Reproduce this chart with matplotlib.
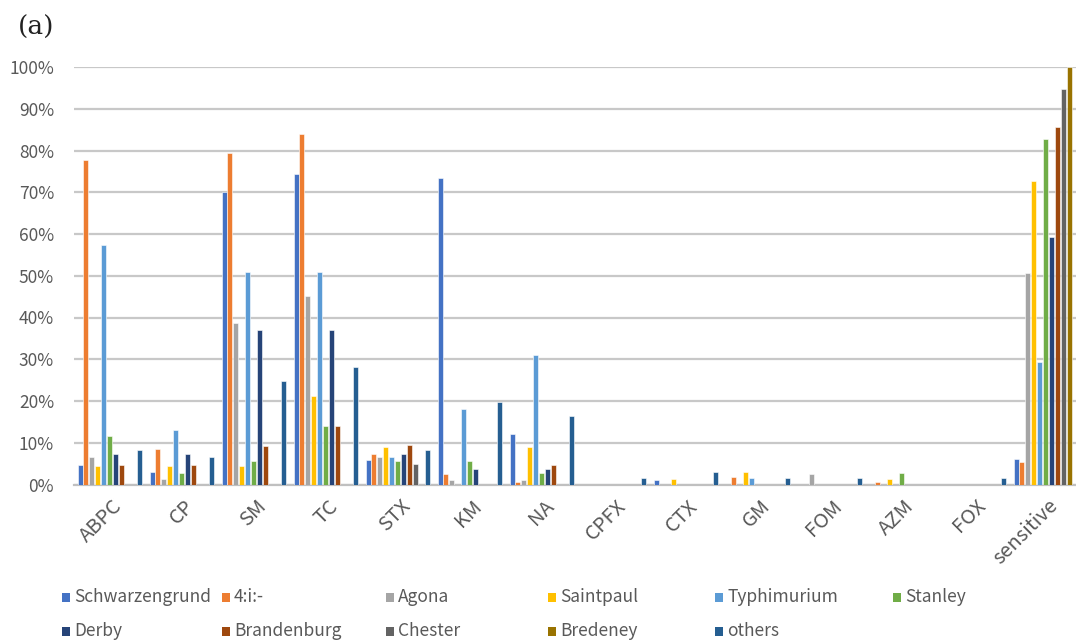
import numpy as np
import matplotlib
matplotlib.use('Agg')
import matplotlib.pyplot as plt
from matplotlib.patches import Rectangle

plt.rcParams['font.family'] = ['Noto Sans CJK JP', 'DejaVu Sans']

drugs = ['ABPC', 'CP', 'SM', 'TC', 'STX', 'KM', 'NA', 'CPFX', 'CTX', 'GM',
         'FOM', 'AZM', 'FOX', 'sensitive']

# percentage of resistant isolates per serovar (last entry = fully sensitive)
schwarzengrund = [4.7, 3.0, 70.0, 74.3, 5.8, 73.5, 12.2, 0, 1.1, 0, 0, 0, 0, 6.2]
typ_4i = [77.7, 8.4, 79.4, 84.0, 7.3, 2.6, 0.7, 0, 0, 1.7, 0, 0.7, 0, 5.4]
agona = [6.6, 1.3, 38.6, 45.2, 6.5, 1.1, 1.1, 0, 0, 0, 2.6, 0, 0, 50.6]
saintpaul = [4.5, 4.5, 4.4, 21.1, 9.0, 0, 9.0, 0, 1.3, 2.9, 0, 1.2, 0, 72.7]
typhimurium = [57.3, 13.1, 50.8, 50.8, 6.5, 18.0, 31.0, 0, 0, 1.5, 0, 0, 0, 29.4]
stanley = [11.5, 2.8, 5.7, 14.0, 5.6, 5.6, 2.7, 0, 0, 0, 0, 2.7, 0, 82.8]
derby = [7.3, 7.3, 37.0, 37.0, 7.3, 3.7, 3.6, 0, 0, 0, 0, 0, 0, 59.2]
brandenburg = [4.7, 4.7, 9.3, 14.0, 9.4, 0, 4.6, 0, 0, 0, 0, 0, 0, 85.6]
chester = [0, 0, 0, 0, 5.0, 0, 0, 0, 0, 0, 0, 0, 0, 94.7]
bredeney = [0, 0, 0, 0, 0, 0, 0, 0, 0, 0, 0, 0, 0, 100.0]
others = [8.2, 6.5, 24.9, 28.2, 8.2, 19.8, 16.5, 1.5, 3.1, 1.5, 1.5, 0, 1.5, 0]

serovars = ['Schwarzengrund', '4:i:-', 'Agona', 'Saintpaul', 'Typhimurium',
            'Stanley', 'Derby', 'Brandenburg', 'Chester', 'Bredeney', 'others']
series = [schwarzengrund, typ_4i, agona, saintpaul, typhimurium, stanley,
          derby, brandenburg, chester, bredeney, others]
colors = ['#4472C4', '#ED7D31', '#A5A5A5', '#FFC000', '#5B9BD5', '#70AD47',
          '#264478', '#9E480E', '#636363', '#997300', '#255E91']

fig = plt.figure(figsize=(10.76, 6.43), dpi=100)
# axes runs slightly past the right edge of the figure
ax = fig.add_axes([73.5 / 1076, 1 - 484.5 / 643, 1008 / 1076, 417.5 / 643])

x = np.arange(len(drugs))
step = 5.9 / 72
width = 5.0 / 72
for j, (vals, c) in enumerate(zip(series, colors)):
    ax.bar(x - 5 * step + j * step, np.array(vals) / 100, width=width,
           color=c, edgecolor='white', linewidth=0.4, zorder=3)

ax.set_xlim(-0.5, len(drugs) - 0.5)
ax.set_ylim(0, 1)
ax.set_yticks(np.arange(0, 1.01, 0.1))
ax.set_yticklabels([f'{int(round(v * 100))}%' for v in np.arange(0, 1.01, 0.1)])
ax.grid(axis='y', color='#C8C8C8', linewidth=1.6, zorder=0)
ax.set_xticks(x + 0.03)
ax.set_xticklabels(drugs, rotation=45, ha='right', va='top',
                   rotation_mode='anchor')
ax.tick_params(axis='y', length=0, colors='#595959', labelsize=12.5, pad=14)
ax.tick_params(axis='x', length=0, colors='#595959', labelsize=14.5, pad=8)
for s in ['top', 'right', 'left']:
    ax.spines[s].set_visible(False)
ax.spines['bottom'].set_color('#C0C0C0')
ax.spines['bottom'].set_linewidth(1.6)

fig.text(18 / 1076, 1 - 27 / 643, '(a)', fontsize=19, family='DejaVu Serif',
         va='center', ha='left', color='#222222')

# legend laid out in two rows of fixed columns
cols = [62, 222, 386, 548, 715, 893]
rows = [597, 631]
for k, (name, c) in enumerate(zip(serovars, colors)):
    r, col = divmod(k, 6)
    px, py = cols[col], rows[r]
    fig.patches.append(Rectangle((px / 1076, 1 - (py + 4.5) / 643), 8 / 1076,
                                 9 / 643, transform=fig.transFigure,
                                 facecolor=c, edgecolor='none'))
    fig.text((px + 12) / 1076, 1 - py / 643, name, fontsize=12.5,
             color='#595959', va='center', ha='left')

fig.savefig('out.png', dpi=100)
